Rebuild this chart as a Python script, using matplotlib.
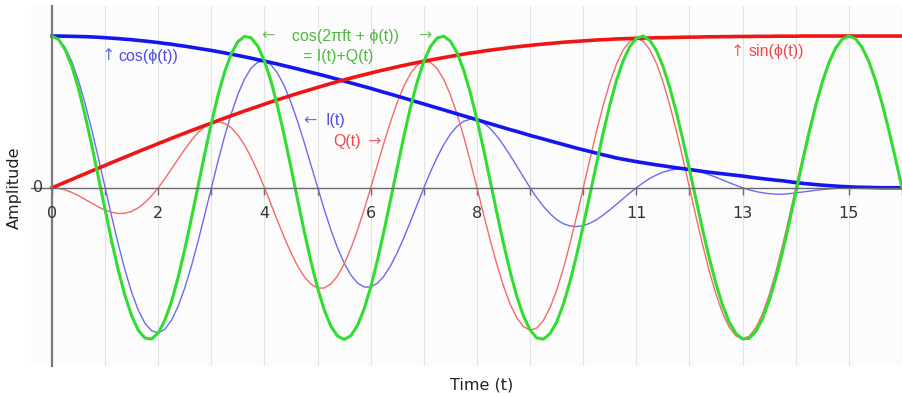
import matplotlib.pyplot as plt
import numpy as np

# sample times (every eighth of a unit)
t = np.arange(0, 16.125, 0.125)

cos_phi = [1.000, 1.000, 0.999, 0.998, 0.997, 0.996, 0.994, 0.992, 0.989, 0.986, 0.983, 0.979, 0.976, 0.971, 0.967, 0.962,
           0.957, 0.951, 0.946, 0.939, 0.933, 0.926, 0.919, 0.912, 0.905, 0.897, 0.889, 0.880, 0.872, 0.863, 0.854, 0.844,
           0.835, 0.825, 0.815, 0.804, 0.794, 0.783, 0.772, 0.761, 0.750, 0.739, 0.727, 0.715, 0.703, 0.691, 0.679, 0.667,
           0.655, 0.642, 0.629, 0.617, 0.604, 0.591, 0.578, 0.565, 0.552, 0.539, 0.526, 0.513, 0.500, 0.487, 0.474, 0.461,
           0.448, 0.435, 0.422, 0.409, 0.396, 0.383, 0.371, 0.358, 0.345, 0.333, 0.321, 0.309, 0.297, 0.285, 0.273, 0.261,
           0.250, 0.239, 0.228, 0.217, 0.207, 0.196, 0.188, 0.180, 0.172, 0.165, 0.158, 0.151, 0.145, 0.138, 0.132, 0.126,
           0.120, 0.114, 0.108, 0.102, 0.097, 0.092, 0.087, 0.082, 0.077, 0.071, 0.065, 0.060, 0.055, 0.050, 0.046, 0.040,
           0.034, 0.029, 0.025, 0.021, 0.017, 0.014, 0.011, 0.008, 0.006, 0.004, 0.003, 0.002, 0.001, 0.000, 0.000, 0.000,
           0.000]

sin_phi = [0.000, 0.018, 0.037, 0.055, 0.074, 0.092, 0.111, 0.129, 0.147, 0.166, 0.184, 0.202, 0.220, 0.238, 0.256, 0.273,
           0.291, 0.308, 0.326, 0.343, 0.360, 0.377, 0.393, 0.410, 0.426, 0.443, 0.459, 0.475, 0.490, 0.506, 0.521, 0.536,
           0.551, 0.566, 0.580, 0.594, 0.608, 0.622, 0.635, 0.648, 0.661, 0.674, 0.687, 0.699, 0.711, 0.723, 0.734, 0.745,
           0.756, 0.767, 0.777, 0.787, 0.797, 0.807, 0.816, 0.825, 0.834, 0.842, 0.850, 0.858, 0.866, 0.873, 0.881, 0.888,
           0.894, 0.901, 0.907, 0.913, 0.918, 0.924, 0.929, 0.934, 0.938, 0.943, 0.947, 0.951, 0.955, 0.959, 0.962, 0.965,
           0.968, 0.971, 0.974, 0.976, 0.978, 0.981, 0.982, 0.984, 0.985, 0.986, 0.987, 0.989, 0.989, 0.990, 0.991, 0.992,
           0.993, 0.993, 0.994, 0.995, 0.995, 0.996, 0.996, 0.997, 0.997, 0.997, 0.998, 0.998, 0.998, 0.999, 0.999, 0.999,
           0.999, 1.000, 1.000, 1.000, 1.000, 1.000, 1.000, 1.000, 1.000, 1.000, 1.000, 1.000, 1.000, 1.000, 1.000, 1.000,
           1.000]

i_t = [1.000, 0.981, 0.923, 0.830, 0.705, 0.553, 0.380, 0.193, 0.000, -0.192, -0.376, -0.544, -0.690, -0.808, -0.893, -0.943,
       -0.957, -0.933, -0.874, -0.781, -0.660, -0.515, -0.352, -0.178, 0.000, 0.175, 0.340, 0.489, 0.616, 0.717, 0.789, 0.828,
       0.835, 0.809, 0.753, 0.669, 0.561, 0.435, 0.296, 0.149, 0.000, -0.144, -0.278, -0.397, -0.497, -0.575, -0.628, -0.654,
       -0.655, -0.630, -0.582, -0.513, -0.427, -0.328, -0.221, -0.110, 0.000, 0.105, 0.201, 0.285, 0.354, 0.405, 0.438, 0.452,
       0.448, 0.426, 0.390, 0.340, 0.280, 0.213, 0.142, 0.070, 0.000, -0.065, -0.123, -0.171, -0.210, -0.237, -0.252, -0.256,
       -0.250, -0.234, -0.211, -0.180, -0.146, -0.109, -0.072, -0.035, 0.000, 0.032, 0.061, 0.084, 0.103, 0.115, 0.122, 0.124,
       0.120, 0.112, 0.100, 0.085, 0.069, 0.051, 0.033, 0.016, 0.000, -0.014, -0.025, -0.033, -0.039, -0.042, -0.043, -0.039,
       -0.034, -0.028, -0.023, -0.017, -0.012, -0.008, -0.004, -0.002, 0.000, 0.001, 0.001, 0.001, 0.001, 0.000, 0.000, 0.000,
       0.000]

q_t = [0.000, -0.004, -0.014, -0.031, -0.052, -0.077, -0.102, -0.127, -0.147, -0.162, -0.170, -0.168, -0.156, -0.132, -0.098, -0.053,
       0.000, 0.060, 0.125, 0.190, 0.254, 0.313, 0.364, 0.402, 0.426, 0.434, 0.424, 0.395, 0.347, 0.281, 0.199, 0.105,
       0.000, -0.110, -0.222, -0.330, -0.430, -0.517, -0.587, -0.636, -0.661, -0.661, -0.634, -0.581, -0.503, -0.401, -0.281, -0.145,
       0.000, 0.150, 0.297, 0.437, 0.564, 0.671, 0.754, 0.809, 0.834, 0.826, 0.786, 0.714, 0.612, 0.485, 0.337, 0.173,
       0.000, -0.176, -0.347, -0.507, -0.649, -0.768, -0.858, -0.916, -0.938, -0.925, -0.875, -0.791, -0.675, -0.533, -0.368, -0.188,
       0.000, 0.189, 0.373, 0.542, 0.692, 0.815, 0.907, 0.965, 0.985, 0.967, 0.912, 0.822, 0.700, 0.550, 0.379, 0.194,
       0.000, -0.194, -0.380, -0.553, -0.704, -0.828, -0.920, -0.977, -0.997, -0.978, -0.922, -0.830, -0.706, -0.555, -0.382, -0.195,
       0.000, 0.195, 0.383, 0.555, 0.707, 0.831, 0.924, 0.981, 1.000, 0.981, 0.924, 0.831, 0.707, 0.556, 0.383, 0.195,
       0.000]

carrier = [1.000, 0.977, 0.909, 0.799, 0.653, 0.476, 0.278, 0.067, -0.147, -0.355, -0.546, -0.712, -0.845, -0.940, -0.991, -0.997,
           -0.957, -0.873, -0.749, -0.591, -0.405, -0.201, 0.012, 0.224, 0.426, 0.609, 0.764, 0.884, 0.963, 0.998, 0.988, 0.933,
           0.835, 0.699, 0.531, 0.339, 0.131, -0.082, -0.291, -0.487, -0.661, -0.805, -0.913, -0.978, -1.000, -0.976, -0.908, -0.799,
           -0.655, -0.480, -0.284, -0.075, 0.137, 0.342, 0.533, 0.699, 0.834, 0.931, 0.987, 0.999, 0.966, 0.890, 0.775, 0.625,
           0.448, 0.251, 0.043, -0.167, -0.369, -0.555, -0.716, -0.846, -0.938, -0.990, -0.998, -0.962, -0.885, -0.769, -0.620, -0.445,
           -0.250, -0.045, 0.162, 0.362, 0.545, 0.707, 0.836, 0.930, 0.985, 1.000, 0.973, 0.906, 0.802, 0.665, 0.501, 0.317,
           0.120, -0.082, -0.281, -0.468, -0.635, -0.777, -0.887, -0.961, -0.997, -0.992, -0.947, -0.863, -0.745, -0.596, -0.425, -0.234,
           -0.034, 0.167, 0.360, 0.538, 0.695, 0.824, 0.920, 0.979, 1.000, 0.982, 0.925, 0.833, 0.708, 0.556, 0.383, 0.195,
           0.000]

grid_pos = list(range(0, 17))
tick_labels = {0: "0", 2: "2", 4: "4", 6: "6", 8: "8", 11: "11", 13: "13", 15: "15"}

W, H = 902, 395
fig = plt.figure(figsize=(W / 100, H / 100), dpi=100)
ax = fig.add_axes([31 / W, 29 / H, 871 / W, 360 / H])
ax.set_facecolor("#fcfcfc")
ax.set_xlim(-0.395, 16.0)
ax.set_ylim(-1.175, 1.198)

# axes through the origin
for side in ["top", "right"]:
    ax.spines[side].set_visible(False)
ax.spines["bottom"].set_position(("data", 0))
ax.spines["left"].set_position(("data", 0))
ax.spines["bottom"].set_color("#6a6a6a")
ax.spines["bottom"].set_linewidth(1.0)
ax.spines["left"].set_color("#7a7a7a")
ax.spines["left"].set_linewidth(1.6)
ax.spines["left"].set_bounds(-1.175, 1.198)
ax.set_xticks(grid_pos)
ax.set_xticklabels([""] * len(grid_pos))
ax.set_yticks([])
ax.tick_params(axis="x", direction="out", length=5, width=1, color="#6a6a6a")
ax.grid(axis="x", color="#e3e3e3", linewidth=0.8)
ax.set_axisbelow(True)

for pos, lab in tick_labels.items():
    ax.text(pos, -0.167, lab, ha="center", va="center", fontsize=11.5, color="#333333",
            family="DejaVu Sans")
ax.text(-0.26, 0, "0", ha="center", va="center", fontsize=11.5, color="#333333", family="DejaVu Sans")

# curves
ax.plot(t, i_t, color="#6b6bf0", lw=1.0)
ax.plot(t, q_t, color="#f26a6a", lw=1.0)
ax.plot(t, cos_phi, color="#1515f0", lw=2.6)
ax.plot(t, sin_phi, color="#f01515", lw=2.6)
ax.plot(t, carrier, color="#30dd30", lw=2.2)

# annotations
fam = ["Liberation Sans", "DejaVu Sans"]
fs = 11.5
blue_txt, green_txt, red_txt = "#4f4fe6", "#50b840", "#f04848"


def label(x, y, s, color, ha="left"):
    ax.text(x, y, s, color=color, fontsize=fs, family=fam, ha=ha, va="center")


def arrow(x, y, s, color):
    ax.text(x, y, s, color=color, fontsize=fs, family="DejaVu Sans", ha="center", va="center", alpha=0.85)


arrow(1.054, 0.87, "\u2191", blue_txt)
label(1.242, 0.862, "cos(\u03d5(t))", blue_txt)
arrow(4.07, 1.0, "\u2190", green_txt)
label(5.53, 1.0, "cos(2\u03c0ft + \u03d5(t))", green_txt, ha="center")
arrow(7.02, 1.0, "\u2192", green_txt)
label(5.38, 0.862, "= I(t)+Q(t)", green_txt, ha="center")
arrow(4.86, 0.442, "\u2190", blue_txt)
label(5.14, 0.442, "I(t)", blue_txt)
label(5.29, 0.303, "Q(t)", red_txt)
arrow(6.06, 0.303, "\u2192", red_txt)
arrow(12.90, 0.90, "\u2191", red_txt)
label(13.12, 0.895, "sin(\u03d5(t))", red_txt)

fig.text(14 / W, 1 - 188 / H, "Amplitude", rotation=90, ha="center", va="center", fontsize=11.5, color="#222222")
fig.text(482 / W, 1 - 385 / H, "Time (t)", ha="center", va="center", fontsize=11.5, color="#222222")

fig.savefig("out.png", dpi=100)
